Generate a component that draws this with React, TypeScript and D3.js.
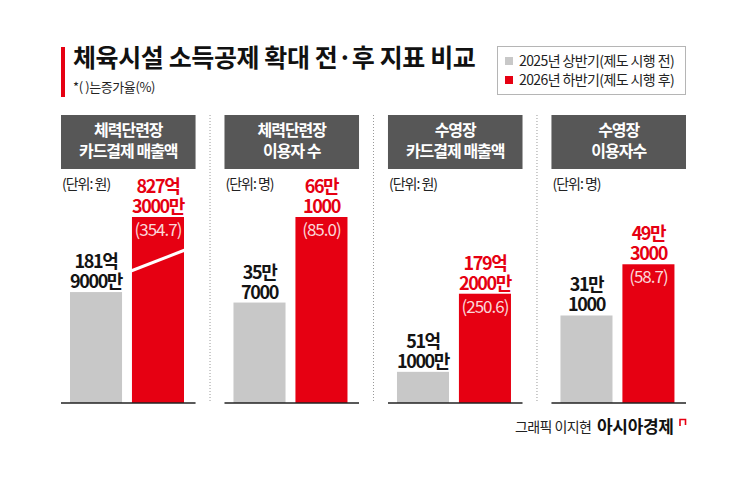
import React from 'react';
import * as d3 from 'd3';

const W = 745;
const H = 484;

// 패널별 데이터
const panelTitles = [
  ['체력단련장', '카드결제 매출액'],
  ['체력단련장', '이용자 수'],
  ['수영장', '카드결제 매출액'],
  ['수영장', '이용자수'],
];
const panelUnits = ['원', '명', '원', '명'];
const before2025 = [181.9e8, 35.7e4, 51.1e8, 31.1e4];
const after2026 = [827.3e8, 66.1e4, 179.2e8, 49.3e4];
const growthRates = [354.7, 85.0, 250.6, 58.7];

const legendLabels = ['2025년 상반기(제도 시행 전)', '2026년 하반기(제도 시행 후)'];
const seriesKeys = ['before', 'after'];

const GRAY = '#c8c8c8';
const RED = '#e60012';
const HEADER_BG = '#575757';
const FONT = '"Noto Sans CJK KR", "Noto Sans", sans-serif';

const baseY = 403;
const plotTop = 217;
const wonDisplayMax = 305e8; // 금액 패널 표시 상한 (넘으면 생략선 표시)

const panelX = d3.scaleBand<number>()
  .domain(d3.range(panelTitles.length))
  .range([61, 686])
  .paddingInner(0.177)
  .paddingOuter(0);

const barX = d3.scaleBand<string>()
  .domain(seriesKeys)
  .range([9, 123])
  .paddingInner(0.16)
  .paddingOuter(0);

const wonY = d3.scaleLinear().domain([0, wonDisplayMax]).range([baseY, plotTop]).clamp(true);
const peopleY = d3.scaleLinear()
  .domain([0, d3.max(after2026.filter((_, i) => panelUnits[i] === '명')) as number])
  .range([baseY, plotTop])
  .clamp(true);

function formatValue(v: number, unit: string): [string, string] {
  if (unit === '원') {
    const eok = Math.floor(v / 1e8);
    const man = Math.round((v - eok * 1e8) / 1e4);
    return [`${eok}억`, `${man}만`];
  }
  const man = Math.floor(v / 1e4);
  const rest = Math.round(v - man * 1e4);
  return [`${man}만`, `${rest}`];
}

function Panel({ i }: { i: number }) {
  const x0 = panelX(i) as number;
  const pw = panelX.bandwidth();
  const unit = panelUnits[i];
  const y = unit === '원' ? wonY : peopleY;
  const values = [before2025[i], after2026[i]];
  const cx = x0 + pw / 2;

  return (
    <g>
      <rect x={x0} y={115} width={pw} height={54} fill={HEADER_BG} />
      <text x={cx} y={136} textAnchor="middle" fill="#fff" fontSize={16} fontWeight={700}
        letterSpacing={-1}>
        {panelTitles[i].map((t, k) => (
          <tspan key={k} x={cx} dy={k === 0 ? 0 : 21}>{t}</tspan>
        ))}
      </text>
      <text x={x0 + 1} y={189} fontSize={14} fill="#222" letterSpacing={-1}>{`(단위: ${unit})`}</text>

      {values.map((v, k) => {
        const key = seriesKeys[k];
        const bx = x0 + (barX(key) as number);
        const bw = barX.bandwidth();
        const lx = bx + bw / 2;
        const top = y(v);
        const broken = unit === '원' && v > wonDisplayMax;
        const [l1, l2] = formatValue(v, unit);
        const color = k === 0 ? GRAY : RED;
        const labelColor = k === 0 ? '#141414' : RED;
        return (
          <g key={key}>
            <rect x={bx} y={top} width={bw} height={baseY - top} fill={color} />
            {broken && (
              <line x1={bx - 1} y1={top + 54} x2={bx + bw + 1} y2={top + 33}
                stroke="#fff" strokeWidth={3} />
            )}
            <text x={lx} y={top - 24} textAnchor="middle" fontSize={18}
              fontWeight={600} fill={labelColor} letterSpacing={-1.4}>
              <tspan x={lx}>{l1}</tspan>
              <tspan x={lx} dy={20}>{l2}</tspan>
            </text>
            {k === 1 && (
              <text x={lx} y={top + 19} textAnchor="middle" fontSize={17}
                fill="#fff" fillOpacity={0.85} letterSpacing={-1}>{`(${growthRates[i].toFixed(1)})`}</text>
            )}
          </g>
        );
      })}

      <line x1={x0} x2={x0 + pw} y1={baseY} y2={baseY} stroke="#222" strokeWidth={1.5} />
    </g>
  );
}

export default function App() {
  const dividers = d3.range(1, panelTitles.length).map(i => {
    const prevEnd = (panelX(i - 1) as number) + panelX.bandwidth();
    return (prevEnd + (panelX(i) as number)) / 2;
  });

  return (
    <svg width={W} height={H} viewBox={`0 0 ${W} ${H}`}
      style={{ position: 'absolute', left: 0, top: 0, background: '#fff' }}
      fontFamily={FONT}>
      <rect width={W} height={H} fill="#fff" />

      {/* 제목 */}
      <rect x={61} y={47} width={4} height={50} fill={RED} />
      <text x={73} y={67} fontSize={25} fontWeight={700} fill="#111" letterSpacing={-0.4}>
        체육시설 소득공제 확대 전·후 지표 비교
      </text>
      <text x={73} y={92} fontSize={13} fill="#222" letterSpacing={-0.4}>*(  )는증가율(%)</text>

      {/* 범례 */}
      <rect x={497.5} y={46.5} width={188} height={48} fill="#fff" stroke="#b5b5b5" />
      {legendLabels.map((t, k) => (
        <g key={t}>
          <rect x={505} y={57 + k * 19} width={8} height={8} fill={k === 0 ? GRAY : RED} />
          <text x={519} y={66 + k * 19} fontSize={14} fill="#222" letterSpacing={-0.6}>{t}</text>
        </g>
      ))}

      {/* 패널 구분선 */}
      {dividers.map(dx => (
        <line key={dx} x1={dx} x2={dx} y1={115} y2={baseY} stroke="#999" strokeWidth={1}
          strokeDasharray="1,2" />
      ))}

      {panelTitles.map((_, i) => <Panel key={i} i={i} />)}

      {/* 출처 */}
      <text x={515} y={432} fontSize={14} fill="#222" letterSpacing={-0.6}>그래픽 이지현</text>
      <text x={597} y={433} fontSize={17} fontWeight={700} fill="#111" letterSpacing={-0.3}>아시아경제</text>
      <path d="M680,426 V419.5 H685.5 V425" fill="none" stroke={RED} strokeWidth={1.6} />
    </svg>
  );
}
